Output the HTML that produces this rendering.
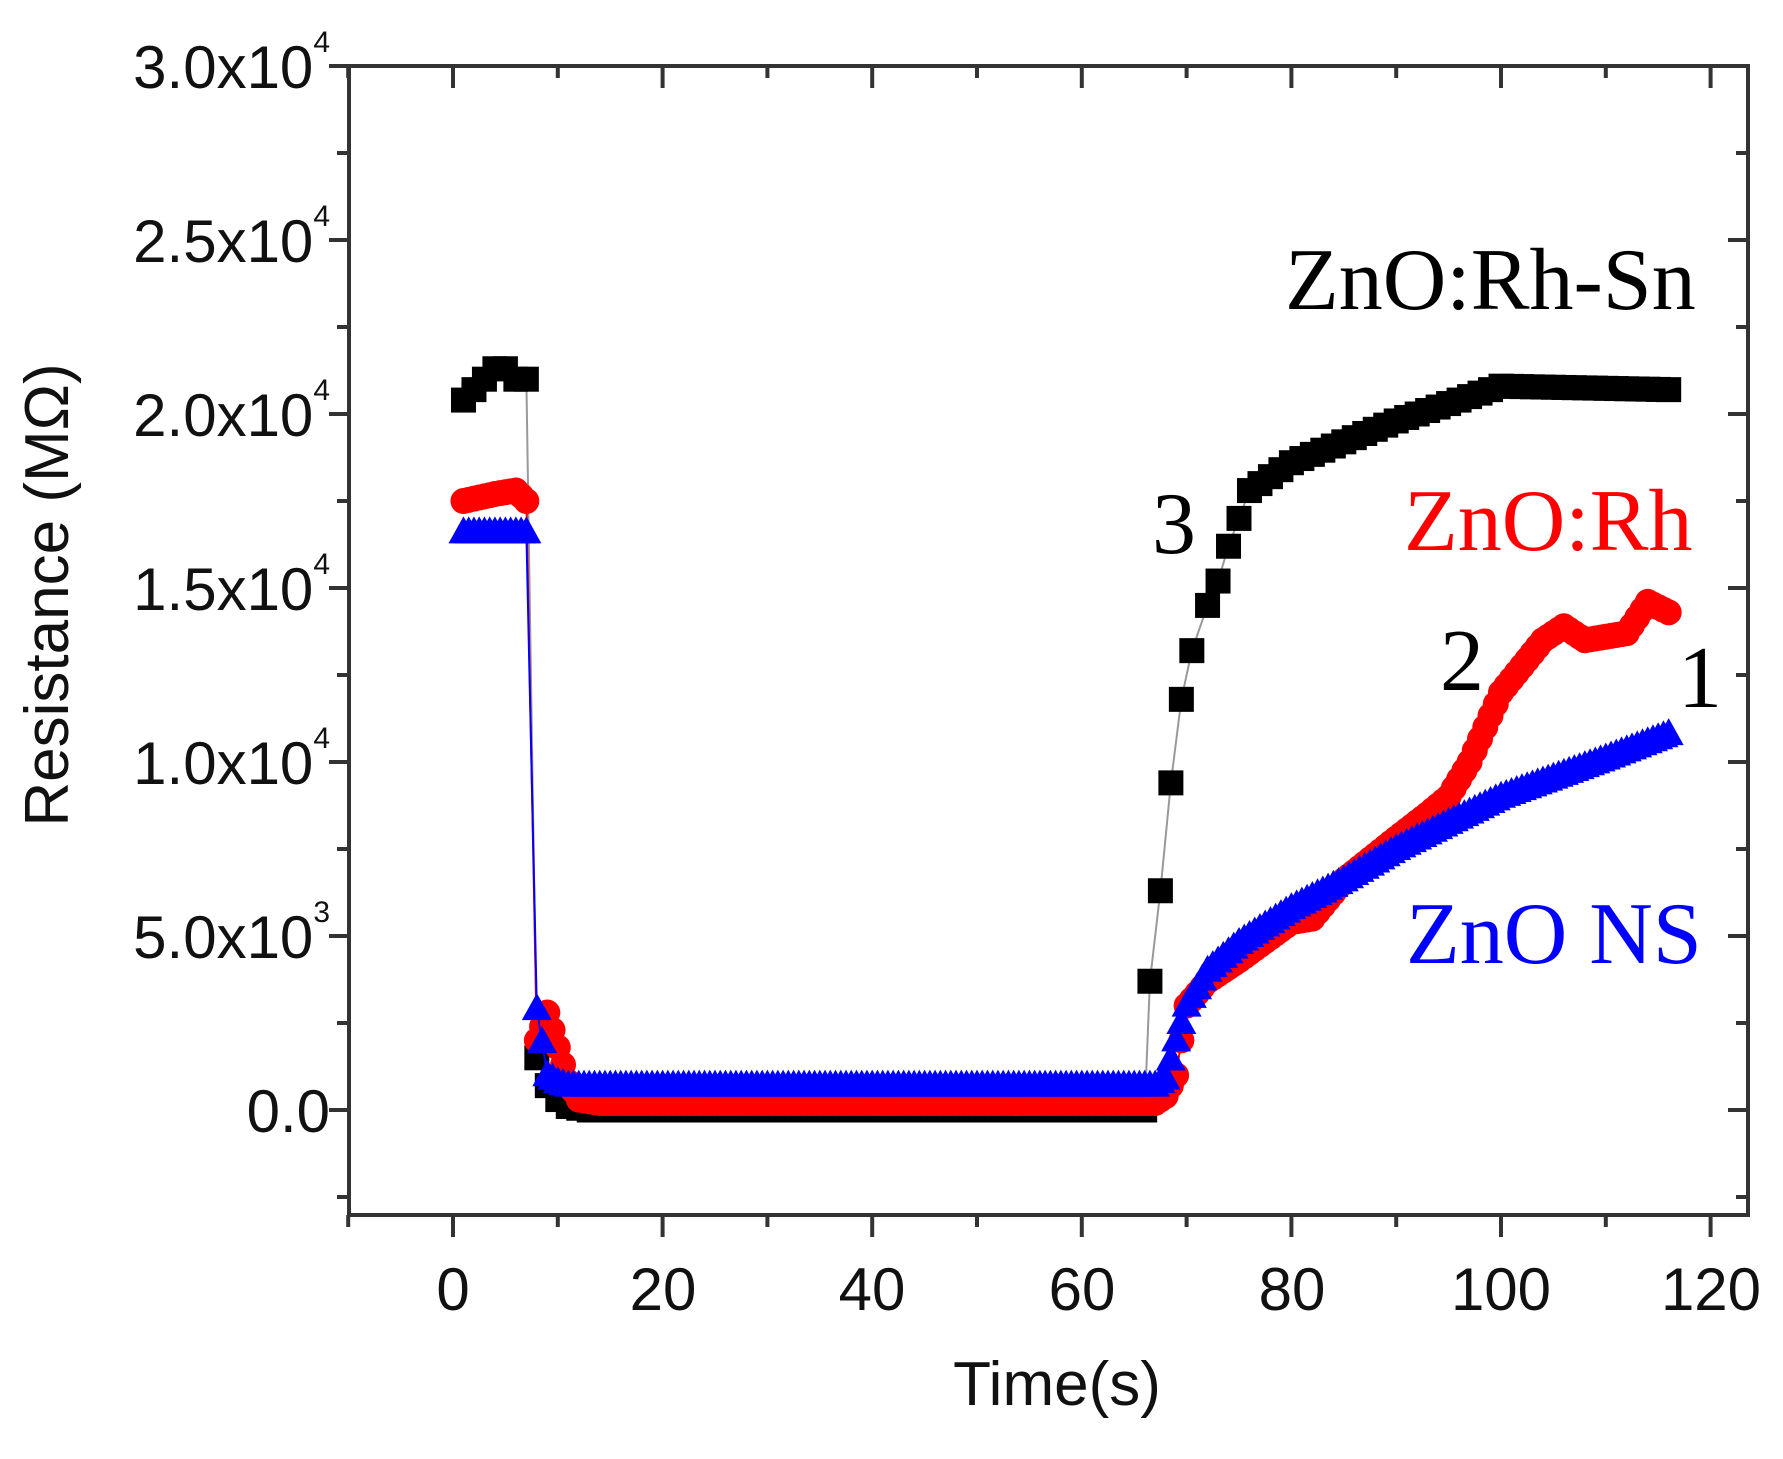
<!DOCTYPE html>
<html><head><meta charset="utf-8"><style>
html,body{margin:0;padding:0;background:#fff;}
svg{display:block;}
.t{font-family:"Liberation Sans",Arial,sans-serif;font-size:60px;fill:#111;}
.a{font-family:"Liberation Serif","Times New Roman",serif;font-size:88px;}
</style></head><body>
<svg id="s" width="1783" height="1459" viewBox="0 0 1783 1459" xmlns="http://www.w3.org/2000/svg">
<rect width="1783" height="1459" fill="#fff"/>
<g id="data"></g>
<g stroke="#333" stroke-width="4" fill="none">
<rect x="349" y="66" width="1399" height="1149"/>
</g>
<g id="ticks" stroke="#333" stroke-width="4"></g>
<g class="t" text-anchor="end">
<text x="330" y="88">3.0x10<tspan font-size="30" dy="-36">4</tspan></text>
<text x="330" y="262">2.5x10<tspan font-size="30" dy="-36">4</tspan></text>
<text x="330" y="436">2.0x10<tspan font-size="30" dy="-36">4</tspan></text>
<text x="330" y="610">1.5x10<tspan font-size="30" dy="-36">4</tspan></text>
<text x="330" y="784">1.0x10<tspan font-size="30" dy="-36">4</tspan></text>
<text x="330" y="958">5.0x10<tspan font-size="30" dy="-36">3</tspan></text>
<text x="330" y="1132">0.0</text>
</g>
<g class="t" text-anchor="middle">
<text x="453" y="1310">0</text><text x="663" y="1310">20</text><text x="872" y="1310">40</text>
<text x="1082" y="1310">60</text><text x="1292" y="1310">80</text><text x="1501" y="1310">100</text><text x="1711" y="1310">120</text>
<text x="1057" y="1405" font-size="62">Time(s)</text>
<text transform="translate(68,595) rotate(-90)" font-size="62">Resistance (MΩ)</text>
</g>
<text class="a" x="1285" y="309" fill="#000">ZnO:Rh-Sn</text>
<text class="a" x="1404" y="550" fill="#f00">ZnO:Rh</text>
<text class="a" x="1406" y="963" fill="#00f">ZnO NS</text>
<text class="a" x="1152" y="553" fill="#000">3</text>
<text class="a" x="1440" y="690" fill="#000">2</text>
<text class="a" x="1678" y="707" fill="#000">1</text>
</svg>
<script>
var NS="http://www.w3.org/2000/svg";
function X(t){return 453+t*10.48;}
function Y(v){return 1110-v*0.0348;}
function el(n,a,p){var e=document.createElementNS(NS,n);for(var k in a)e.setAttribute(k,a[k]);p.appendChild(e);return e;}
var tk=document.getElementById('ticks');
for(var v=-2500;v<=30000;v+=2500){var y=Y(v);var L=(v%5000==0)?20:12;
 el('line',{x1:349-L,y1:y,x2:349,y2:y},tk);el('line',{x1:1748,y1:y,x2:1748-L,y2:y},tk);}
for(var t=-10;t<=120;t+=10){var x=X(t);var L=(t%20==0)?22:12;
 el('line',{x1:x,y1:1215,x2:x,y2:1215+L},tk);el('line',{x1:x,y1:66,x2:x,y2:66+L},tk);}
function interp(k,t){for(var i=0;i<k.length-1;i++){if(t>=k[i][0]&&t<=k[i+1][0]){var f=(t-k[i][0])/(k[i+1][0]-k[i][0]);return k[i][1]+f*(k[i+1][1]-k[i][1]);}}return k[k.length-1][1];}
function series(keys,ts,color,shape){var g=document.getElementById('data');var pts=ts.map(function(t){return [X(t),Y(interp(keys,t))];});
 el('polyline',{points:pts.map(function(p){return p.join(',')}).join(' '),fill:'none',stroke:color=='#000'?'#999':color,'stroke-width':2},g);
 pts.forEach(function(p){if(shape=='s')el('rect',{x:p[0]-12.5,y:p[1]-12.5,width:25,height:25,fill:color},g);
 else if(shape=='c')el('circle',{cx:p[0],cy:p[1],r:13,fill:color},g);
 else el('polygon',{points:(p[0])+','+(p[1]-16)+' '+(p[0]-15)+','+(p[1]+11)+' '+(p[0]+15)+','+(p[1]+11),fill:color},g);});}
function range(a,b,s){var r=[];for(var t=a;t<=b+1e-9;t+=s)r.push(t);return r;}
var kb=[[1,20400],[2,20700],[3,21000],[4,21300],[5,21300],[6,21000],[7,21000],[8,1500],[9,700],[10,300],[11,100],[13,0],[66,0],[66.5,3700],[67.5,6300],[68.5,9400],[69.5,11800],[70.5,13200],[72,14500],[73,15200],[74,16200],[75,17000],[76,17800],[80,18600],[90,19800],[100,20800],[116,20700]];
var tb=range(1,7,1).concat(range(8,12,1)).concat(range(13,66,1)).concat([66.5,67.5,68.5,69.5,70.5,72,73,74,75,76]).concat(range(77,116,1));
series(kb,tb,'#000','s');
var kr=[[1,17500],[4,17700],[6,17800],[7,17500],[8,2000],[9,2800],[10,1800],[11,800],[12,300],[14,200],[67,200],[68,400],[69,1000],[70,3000],[72,3700],[75,4300],[80,5400],[82,5500],[85,6600],[90,7800],[93,8500],[95,9000],[97,10000],[100,12000],[104,13500],[106,13900],[108,13500],[112,13700],[114,14600],[116,14300]];
series(kr,range(1,7,0.5).concat(range(8,116,0.5)),'#f00','c');
var kl=[[1,16600],[7,16600],[8,2900],[9,1000],[10,800],[11,700],[67,700],[68,900],[69,2000],[70,3000],[72,4000],[75,4800],[80,5800],[85,6600],[90,7500],[100,9000],[110,10100],[116,10800]];
series(kl,range(1,7,0.5).concat(range(8,116,0.5)),'#00f','t');
</script>
</body></html>
